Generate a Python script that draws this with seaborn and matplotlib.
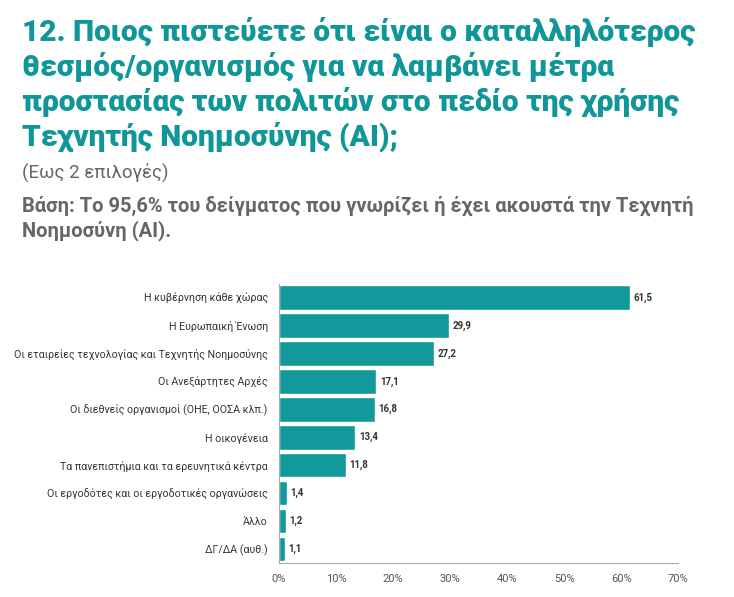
import matplotlib
matplotlib.use("Agg")
import matplotlib.pyplot as plt
import seaborn as sns
import pandas as pd
from matplotlib.ticker import FuncFormatter

categories = [
    "Η κυβέρνηση κάθε χώρας",
    "Η Ευρωπαική Ένωση",
    "Οι εταιρείες τεχνολογίας και Τεχνητής Νοημοσύνης",
    "Οι Ανεξάρτητες Αρχές",
    "Οι διεθνείς οργανισμοί (ΟΗΕ, ΟΟΣΑ κλπ.)",
    "Η οικογένεια",
    "Τα πανεπιστήμια και τα ερευνητικά κέντρα",
    "Οι εργοδότες και οι εργοδοτικές οργανώσεις",
    "Άλλο",
    "ΔΓ/ΔΑ (αυθ.)",
]
values = [61.5, 29.9, 27.2, 17.1, 16.8, 13.4, 11.8, 1.4, 1.2, 1.1]
value_labels = ["61,5", "29,9", "27,2", "17,1", "16,8", "13,4", "11,8", "1,4", "1,2", "1,1"]
x_ticks = [0, 10, 20, 30, 40, 50, 60, 70]

title = ("12. Ποιος πιστεύετε ότι είναι ο καταλληλότερος\n"
         "θεσμός/οργανισμός για να λαμβάνει μέτρα\n"
         "προστασίας των πολιτών στο πεδίο της χρήσης\n"
         "Τεχνητής Νοημοσύνης (AI);")
subtitle1 = "(Εως 2 επιλογές)"
subtitle2 = ("Βάση: Το 95,6% του δείγματος που γνωρίζει ή έχει ακουστά την Τεχνητή\n"
             "Νοημοσύνη (AI).")

sns.set_theme(style="white")
plt.rcParams['font.family'] = ['Roboto', 'DejaVu Sans']

TEAL = "#12999B"
df = pd.DataFrame({"cat": categories, "val": values})

fig = plt.figure(figsize=(7.34, 5.97), dpi=100)
ax = fig.add_axes([0.380, 0.057, 0.544, 0.468])
sns.barplot(data=df, x="val", y="cat", color=TEAL, width=0.88, ax=ax, saturation=1)

ax.set_xlim(0, 70)
ax.set_xticks(x_ticks)
ax.xaxis.set_major_formatter(FuncFormatter(lambda v, p: f"{int(v)}%"))
ax.set_xlabel("")
ax.set_ylabel("")
ax.tick_params(axis="x", direction="inout", length=4, width=0.8, color="#999999",
               labelsize=8, labelcolor="#555555", pad=6)
ax.tick_params(axis="y", length=0, labelsize=7.7, labelcolor="#333333", pad=8)
for s in ["top", "right"]:
    ax.spines[s].set_visible(False)
for s in ["left", "bottom"]:
    ax.spines[s].set_color("#aaaaaa")
    ax.spines[s].set_linewidth(0.8)

for i, (v, lab) in enumerate(zip(values, value_labels)):
    ax.text(v + 0.6, i, lab, va="center", ha="left", fontsize=7,
            fontweight="bold", color="#333333")

fig.text(0.030, 0.972, title, ha="left", va="top", fontsize=21.5, fontweight="black",
         color="#0E9698", linespacing=1.2)
fig.text(0.030, 0.728, subtitle1, ha="left", va="top", fontsize=13.5, color="#666666")
fig.text(0.030, 0.672, subtitle2, ha="left", va="top", fontsize=14.5, fontweight="bold",
         color="#666666", linespacing=1.25)

fig.savefig("out.png", dpi=100)
